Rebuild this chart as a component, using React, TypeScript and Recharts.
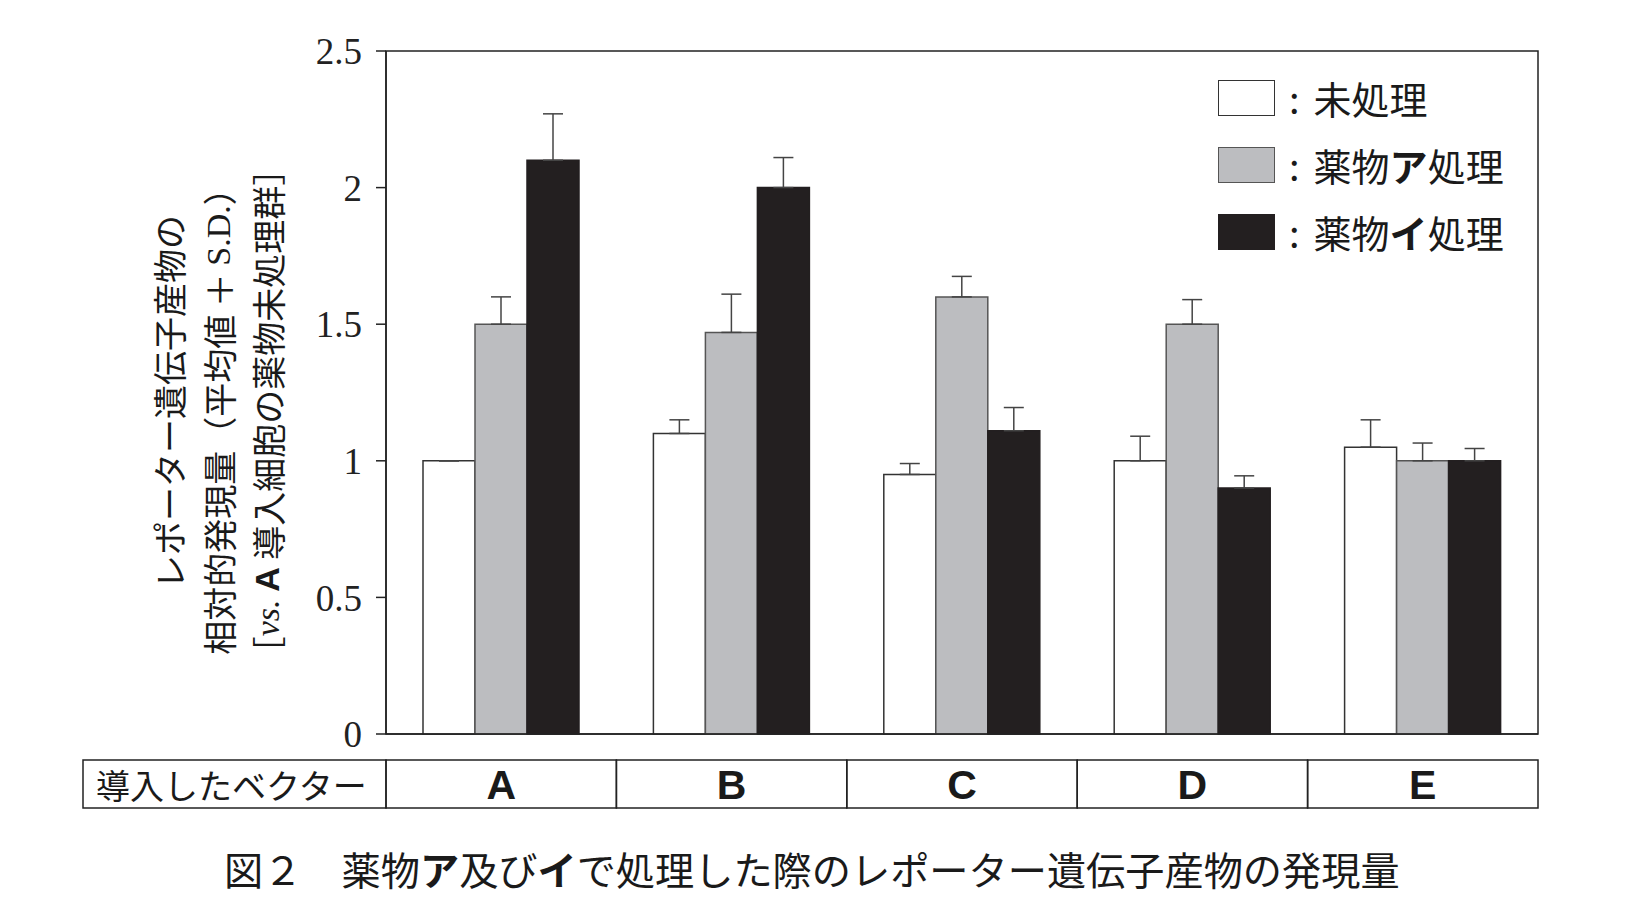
import { BarChart, Bar, XAxis, YAxis, ErrorBar, ReferenceArea, Legend } from "recharts"

// vectors introduced into the cells
const categories = ["A", "B", "C", "D", "E"]

// relative expression (mean) and +S.D. per treatment
const untreated = [1.0, 1.1, 0.95, 1.0, 1.05]
const untreatedSd = [0, 0.05, 0.04, 0.09, 0.1]
const drugA = [1.5, 1.47, 1.6, 1.5, 1.0]
const drugASd = [0.1, 0.14, 0.075, 0.09, 0.065]
const drugI = [2.1, 2.0, 1.11, 0.9, 1.0]
const drugISd = [0.17, 0.11, 0.085, 0.045, 0.045]

const yTicks = [0, 0.5, 1, 1.5, 2, 2.5]

const data = categories.map((name, i) => ({
  name,
  untreated: untreated[i],
  untreatedErr: [0, untreatedSd[i]],
  drugA: drugA[i],
  drugAErr: [0, drugASd[i]],
  drugI: drugI[i],
  drugIErr: [0, drugISd[i]],
}))

const SERIES = [
  { key: "untreated", name: "未処理", fill: "#ffffff", stroke: "#333333" },
  { key: "drugA", name: "薬物ア処理", fill: "#bcbdc0", stroke: "#555555" },
  { key: "drugI", name: "薬物イ処理", fill: "#231f20", stroke: "#231f20" },
]

const W = 1636
const H = 918
const PLOT_LEFT = 386
const PLOT_RIGHT = 1538
const BAND = (PLOT_RIGHT - PLOT_LEFT) / categories.length
const TABLE_TOP = 26
const TABLE_H = 48

const JP = "'Noto Sans CJK JP', 'Noto Sans CJK SC', sans-serif"
const SERIF = "'Liberation Serif', 'DejaVu Serif', serif"

function boldKana(text: string) {
  return text.split("").map((ch, i) =>
    ch === "ア" || ch === "イ" ? (
      <tspan key={i} fontWeight="bold">{ch}</tspan>
    ) : (
      ch
    )
  )
}

function boldKanaHtml(text: string) {
  return text.split("").map((ch, i) =>
    ch === "ア" || ch === "イ" ? (
      <b key={i}>{ch}</b>
    ) : (
      <span key={i}>{ch}</span>
    )
  )
}

function VectorTick(props: any) {
  const { x, y, payload } = props
  return (
    <g>
      <rect
        x={x - BAND / 2}
        y={y + TABLE_TOP}
        width={BAND}
        height={TABLE_H}
        fill="none"
        stroke="#222"
        strokeWidth={1.5}
      />
      <text
        x={x}
        y={y + TABLE_TOP + TABLE_H / 2 + 1}
        textAnchor="middle"
        dominantBaseline="central"
        fontFamily="'Liberation Sans Narrow', 'Liberation Sans', Arial, sans-serif"
        fontWeight="bold"
        fontSize={41}
        fill="#1a1a1a"
      >
        {payload.value}
      </text>
    </g>
  )
}

function LegendBox(props: any) {
  const payload = props.payload || []
  return (
    <div style={{ fontFamily: JP, fontSize: 38, color: "#1a1a1a" }}>
      {payload.map((entry: any) => {
        const s = SERIES.find((x) => x.key === entry.dataKey) || SERIES[0]
        return (
          <div key={s.key} style={{ display: "flex", alignItems: "center", height: 37, marginBottom: 30 }}>
            <div
              style={{
                width: 55,
                height: 34,
                background: s.fill,
                border: `1.5px solid ${s.stroke}`,
              }}
            />
            <span style={{ marginLeft: 14, lineHeight: "37px" }}>:</span>
            <span style={{ marginLeft: 14, lineHeight: "37px", whiteSpace: "nowrap" }}>{boldKanaHtml(s.name)}</span>
          </div>
        )
      })}
    </div>
  )
}

export default function App() {
  return (
    <div style={{ position: "absolute", left: 0, top: 0, width: W, height: H, background: "#fff" }}>
      <BarChart
        width={W}
        height={H}
        data={data}
        margin={{ top: 51, right: W - PLOT_RIGHT, bottom: 110, left: 0 }}
        barGap={0}
        barSize={52}
      >
        <XAxis
          dataKey="name"
          height={74}
          tickSize={0}
          tickMargin={0}
          tickLine={false}
          axisLine={{ stroke: "#222", strokeWidth: 1.5 }}
          tick={<VectorTick />}
          interval={0}
        />
        <YAxis
          width={PLOT_LEFT}
          domain={[0, 2.5]}
          ticks={yTicks}
          tickSize={10}
          tickMargin={14}
          axisLine={{ stroke: "#222", strokeWidth: 1.5 }}
          tickLine={{ stroke: "#222", strokeWidth: 1.5 }}
          tick={{ fontFamily: SERIF, fontSize: 37, fill: "#222" }}
        />
        {SERIES.map((s) => (
          <Bar
            key={s.key}
            dataKey={s.key}
            name={s.name}
            fill={s.fill}
            stroke={s.stroke}
            strokeWidth={1.5}
            isAnimationActive={false}
          >
            <ErrorBar dataKey={`${s.key}Err`} direction="y" width={10} stroke="#444" strokeWidth={1.5} />
          </Bar>
        ))}
        <ReferenceArea y1={0} y2={2.5} fill="none" stroke="#222" strokeWidth={1.5} ifOverflow="visible" />
        <Legend
          layout="vertical"
          align="center"
          verticalAlign="middle"
          content={<LegendBox />}
          wrapperStyle={{ position: "absolute", left: 1218, top: 79, width: 320, margin: 0 }}
        />
      </BarChart>

      <svg
        width={W}
        height={H}
        style={{ position: "absolute", left: 0, top: 0, pointerEvents: "none" }}
      >
        {/* y-axis title, three rotated lines */}
        <text
          transform="translate(168,402) rotate(-90)"
          textAnchor="middle"
          dominantBaseline="central"
          fontFamily={JP}
          fontSize={34}
          fill="#1a1a1a"
        >
          レポーター遺伝子産物の
        </text>
        <text
          transform="translate(218,413) rotate(-90)"
          textAnchor="middle"
          dominantBaseline="central"
          fontFamily={JP}
          fontSize={34}
          fill="#1a1a1a"
        >
          相対的発現量（平均値 ＋ <tspan fontFamily={SERIF}>S.D.</tspan>）
        </text>
        <text
          transform="translate(267,411) rotate(-90)"
          textAnchor="middle"
          dominantBaseline="central"
          fontFamily={JP}
          fontSize={34}
          fill="#1a1a1a"
        >
          ［<tspan fontFamily={SERIF} fontStyle="italic">vs.</tspan>{" "}
          <tspan fontFamily="'Liberation Sans', Arial, sans-serif" fontWeight="bold">A</tspan> 導入細胞の薬物未処理群］
        </text>

        {/* header cell of the vector table */}
        <rect
          x={83}
          y={760}
          width={PLOT_LEFT - 83}
          height={TABLE_H}
          fill="none"
          stroke="#222"
          strokeWidth={1.5}
        />
        <text x={96} y={784} dominantBaseline="central" fontFamily={JP} fontSize={34} fill="#1a1a1a">
          導入したベクター
        </text>

        {/* figure caption */}
        <text x={224} y={868} dominantBaseline="central" fontFamily={JP} fontSize={39.2} fill="#1a1a1a">
          図２　薬物{boldKana("ア")}及び{boldKana("イ")}で処理した際のレポーター遺伝子産物の発現量
        </text>
      </svg>
    </div>
  )
}
